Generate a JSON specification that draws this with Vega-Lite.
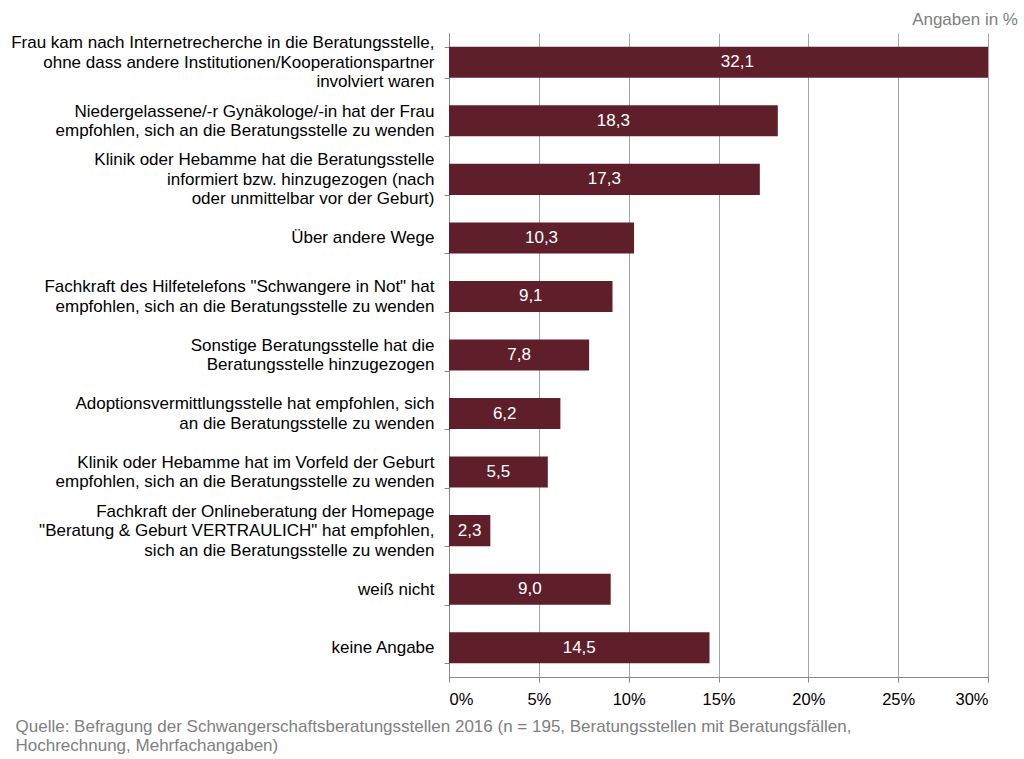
{
  "$schema": "https://vega.github.io/schema/vega-lite/v6.json",
  "width": 539,
  "height": 644,
  "autosize": {"type": "none"},
  "padding": {"left": 449, "top": 33, "right": 36, "bottom": 82},
  "background": "#ffffff",
  "config": {
    "font": "Liberation Sans",
    "view": {"stroke": null},
    "locale": {"number": {"decimal": ",", "thousands": ".", "grouping": [3], "currency": ["", " €"]}}
  },
  "title": {
    "text": "Angaben in %",
    "anchor": "end",
    "orient": "top",
    "frame": "group",
    "dx": 30,
    "dy": 11,
    "offset": 6,
    "fontSize": 17,
    "fontWeight": "normal",
    "color": "#808080",
    "font": "Liberation Sans"
  },
  "data": {
    "values": [
      {"cat": "Frau kam nach Internetrecherche in die Beratungsstelle,|ohne dass andere Institutionen/Kooperationspartner|involviert waren", "value": 32.1},
      {"cat": "Niedergelassene/-r Gynäkologe/-in hat der Frau|empfohlen, sich an die Beratungsstelle zu wenden", "value": 18.3},
      {"cat": "Klinik oder Hebamme hat die Beratungsstelle|informiert bzw. hinzugezogen (nach|oder unmittelbar vor der Geburt)", "value": 17.3},
      {"cat": "Über andere Wege", "value": 10.3},
      {"cat": "Fachkraft des Hilfetelefons \"Schwangere in Not\" hat|empfohlen, sich an die Beratungsstelle zu wenden", "value": 9.1},
      {"cat": "Sonstige Beratungsstelle hat die|Beratungsstelle hinzugezogen", "value": 7.8},
      {"cat": "Adoptionsvermittlungsstelle hat empfohlen, sich|an die Beratungsstelle zu wenden", "value": 6.2},
      {"cat": "Klinik oder Hebamme hat im Vorfeld der Geburt|empfohlen, sich an die Beratungsstelle zu wenden", "value": 5.5},
      {"cat": "Fachkraft der Onlineberatung der Homepage|\"Beratung & Geburt VERTRAULICH\" hat empfohlen,|sich an die Beratungsstelle zu wenden", "value": 2.3},
      {"cat": "weiß nicht", "value": 9.0},
      {"cat": "keine Angabe", "value": 14.5}
    ]
  },
  "encoding": {
    "y": {
      "field": "cat",
      "type": "nominal",
      "sort": null,
      "scale": {"paddingInner": 0.47, "paddingOuter": 0.235},
      "axis": {
        "title": null,
        "labelExpr": "datum.value ? split(datum.value, '|') : ''",
        "labelFontSize": 17,
        "labelColor": "#000000",
        "labelLineHeight": 19.5,
        "labelLimit": 0,
        "labelPadding": 10,
        "labelOffset": {"expr": "datum.value ? -(length(split(datum.value, '|')) - 1) * 9.75 : 0"},
        "labelFont": "Liberation Sans",
        "tickBand": "extent",
        "tickSize": 5,
        "tickColor": "#888888",
        "domainColor": "#888888",
        "grid": false
      }
    }
  },
  "layer": [
    {
      "mark": {"type": "bar", "color": "#5e1f2a", "clip": true},
      "encoding": {
        "x": {
          "field": "value",
          "type": "quantitative",
          "scale": {"domain": [0, 30], "nice": false},
          "axis": {
            "values": [0, 5, 10, 15, 20, 25, 30],
            "labelExpr": "datum.value + '%'",
            "labelFontSize": 16.5,
            "labelColor": "#000000",
            "labelPadding": 9,
            "labelFont": "Liberation Sans",
            "tickSize": 5,
            "tickColor": "#888888",
            "domainColor": "#888888",
            "grid": true,
            "gridColor": "#a6a6a6",
            "gridWidth": 1,
            "title": ["Quelle: Befragung der Schwangerschaftsberatungsstellen 2016 (n = 195, Beratungsstellen mit Beratungsfällen,", "Hochrechnung, Mehrfachangaben)"],
            "titleX": -434,
            "titleY": 41,
            "titleAlign": "left",
            "titleAnchor": "start",
            "titleBaseline": "top",
            "titleFontSize": 17,
            "titleFontWeight": "normal",
            "titleColor": "#808080",
            "titleLineHeight": 19,
            "titleFont": "Liberation Sans"
          }
        }
      }
    },
    {
      "mark": {"type": "text", "color": "#ffffff", "fontSize": 17, "font": "Liberation Sans", "align": "center", "baseline": "middle"},
      "encoding": {
        "x": {"field": "value", "type": "quantitative", "scale": {"domain": [0, 60], "nice": false}, "axis": null},
        "text": {"field": "value", "type": "quantitative", "format": ".1f"}
      }
    }
  ],
  "resolve": {"scale": {"x": "independent"}}
}
